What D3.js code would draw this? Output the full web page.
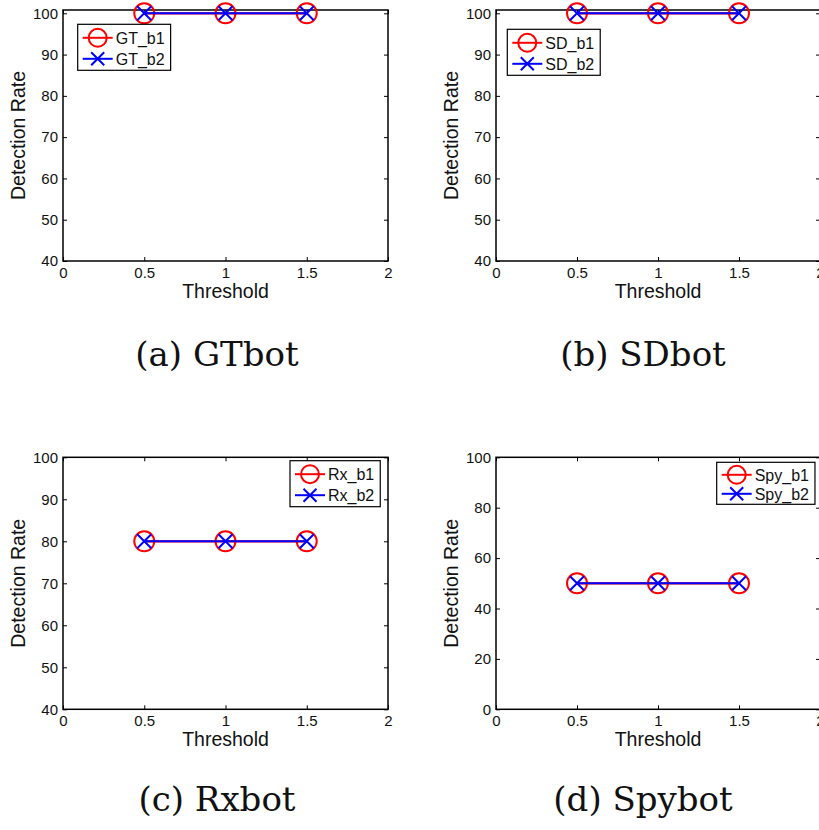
<!DOCTYPE html>
<html>
<head>
<meta charset="utf-8">
<script src="https://cdn.jsdelivr.net/npm/d3@7"></script>
<style>
  body { margin: 0; background: #fff; }
  svg { display: block; }
  .tick text { font-family: "Liberation Sans", Arial, sans-serif; font-size: 15px; fill: #111; }
</style>
</head>
<body>
<svg id="chart" width="819" height="830"></svg>
<script>
// values
var thresholds = [0.5, 1, 1.5];
var gt_b1 = [100, 100, 100];
var gt_b2 = [100, 100, 100];
var sd_b1 = [100, 100, 100];
var sd_b2 = [100, 100, 100];
var rx_b1 = [80, 80, 80];
var rx_b2 = [80, 80, 80];
var spy_b1 = [50, 50, 50];
var spy_b2 = [50, 50, 50];

var x_ticks = [0, 0.5, 1, 1.5, 2];
var y_ticks_abc = [40, 50, 60, 70, 80, 90, 100];
var y_ticks_d = [0, 20, 40, 60, 80, 100];

var captions = ["(a) GTbot", "(b) SDbot", "(c) Rxbot", "(d) Spybot"];
var legend_names = [["GT_b1", "GT_b2"], ["SD_b1", "SD_b2"], ["Rx_b1", "Rx_b2"], ["Spy_b1", "Spy_b2"]];

// layout of the four panels
var panels = [
    { left: 63, top: 10, width: 325, height: 251, ydom: [40, 100.8], yt: y_ticks_abc, s1: gt_b1, s2: gt_b2, leg: { x: 14.7, y: 14.3, h: 46 }, cap: { x: 217, y: 366 } },
    { left: 496, top: 10, width: 324, height: 251, ydom: [40, 100.8], yt: y_ticks_abc, s1: sd_b1, s2: sd_b2, leg: { x: 11.3, y: 19.3, h: 46 }, cap: { x: 643, y: 366 } },
    { left: 63, top: 457.3, width: 325, height: 252, ydom: [40, 100], yt: y_ticks_abc, s1: rx_b1, s2: rx_b2, leg: { x: 227, y: 3.4, h: 46 }, cap: { x: 217, y: 811 } },
    { left: 496, top: 457.3, width: 324, height: 252, ydom: [0, 100], yt: y_ticks_d, s1: spy_b1, s2: spy_b2, leg: { x: 220.7, y: 5, h: 42 }, cap: { x: 643, y: 811 } }
];

var red = "#ff0000";
var blue = "#0000ff";
var sans = '"Liberation Sans", Arial, sans-serif';

var svg = d3.select("#chart");

function draw_circle(g, cx, cy, r) {
    g.append("circle")
        .attr("cx", cx).attr("cy", cy).attr("r", r)
        .attr("fill", "none").attr("stroke", red).attr("stroke-width", 2);
}

function draw_cross(g, cx, cy, s) {
    g.append("path")
        .attr("d", "M" + (cx - s) + "," + (cy - s) + "L" + (cx + s) + "," + (cy + s) +
            "M" + (cx - s) + "," + (cy + s) + "L" + (cx + s) + "," + (cy - s))
        .attr("stroke", blue).attr("stroke-width", 2).attr("fill", "none");
}

panels.forEach(function (p, i) {
    var g = svg.append("g").attr("transform", "translate(" + p.left + "," + p.top + ")");

    var x = d3.scaleLinear().domain([0, 2]).range([0, p.width]);
    var y = d3.scaleLinear().domain(p.ydom).range([p.height, 0]);

    // axes, ticks pointing inward like matlab
    var fmt = function (d) { return String(d); };
    g.append("g").attr("transform", "translate(0," + p.height + ")")
        .call(d3.axisBottom(x).tickValues(x_ticks).tickFormat(fmt).tickSizeInner(-4).tickSizeOuter(0).tickPadding(6));
    g.append("g")
        .call(d3.axisTop(x).tickValues(x_ticks).tickFormat("").tickSizeInner(-4).tickSizeOuter(0));
    g.append("g")
        .call(d3.axisLeft(y).tickValues(p.yt).tickFormat(fmt).tickSizeInner(-4).tickSizeOuter(0).tickPadding(5));
    g.append("g").attr("transform", "translate(" + p.width + ",0)")
        .call(d3.axisRight(y).tickValues(p.yt).tickFormat("").tickSizeInner(-4).tickSizeOuter(0));

    g.selectAll(".domain").remove();
    g.selectAll(".tick line").attr("stroke", "#000").attr("stroke-width", 1);

    g.append("rect")
        .attr("width", p.width).attr("height", p.height)
        .attr("fill", "none").attr("stroke", "#000").attr("stroke-width", 1.5);

    // series
    var pts1 = thresholds.map(function (t, k) { return [t, p.s1[k]]; });
    var pts2 = thresholds.map(function (t, k) { return [t, p.s2[k]]; });
    var line = d3.line().x(function (d) { return x(d[0]); }).y(function (d) { return y(d[1]); });

    g.append("path").datum(pts1).attr("d", line)
        .attr("fill", "none").attr("stroke", red).attr("stroke-width", 2.2);
    pts1.forEach(function (d) { draw_circle(g, x(d[0]), y(d[1]), 10); });

    g.append("path").datum(pts2).attr("d", line)
        .attr("fill", "none").attr("stroke", blue).attr("stroke-width", 2);
    pts2.forEach(function (d) { draw_cross(g, x(d[0]), y(d[1]), 7); });

    // axis labels
    g.append("text")
        .attr("x", p.width / 2).attr("y", p.height + 37)
        .attr("text-anchor", "middle")
        .style("font-family", sans).style("font-size", "19.5px").attr("fill", "#111")
        .text("Threshold");
    g.append("text")
        .attr("transform", "translate(-38," + (p.height / 2) + ") rotate(-90)")
        .attr("text-anchor", "middle")
        .style("font-family", sans).style("font-size", "19.5px").attr("fill", "#111")
        .text("Detection Rate");

    // legend
    var lg = g.append("g").attr("transform", "translate(" + p.leg.x + "," + p.leg.y + ")");
    var box = lg.append("rect").attr("fill", "#fff").attr("stroke", "#000").attr("stroke-width", 1.2);
    var row_gap = (p.leg.h - 4) / 2;
    var max_w = 0;
    legend_names[i].forEach(function (name, k) {
        var cy = 3 + row_gap * (k + 0.5);
        lg.append("line").attr("x1", 5).attr("x2", 35).attr("y1", cy).attr("y2", cy)
            .attr("stroke", k === 0 ? red : blue).attr("stroke-width", 2);
        if (k === 0) draw_circle(lg, 20, cy, 9);
        else draw_cross(lg, 20, cy, 6.5);
        var t = lg.append("text").attr("x", 38).attr("y", cy).attr("dy", "0.36em")
            .style("font-family", sans).style("font-size", "16px").attr("fill", "#111")
            .text(name);
        max_w = Math.max(max_w, t.node().getComputedTextLength());
    });
    box.attr("width", 38 + max_w + 6).attr("height", p.leg.h);

    // caption
    svg.append("text")
        .attr("x", p.cap.x).attr("y", p.cap.y)
        .attr("text-anchor", "middle")
        .style("font-family", '"DejaVu Serif", serif').style("font-size", "34px").attr("fill", "#111")
        .text(captions[i]);
});
</script>
</body>
</html>
